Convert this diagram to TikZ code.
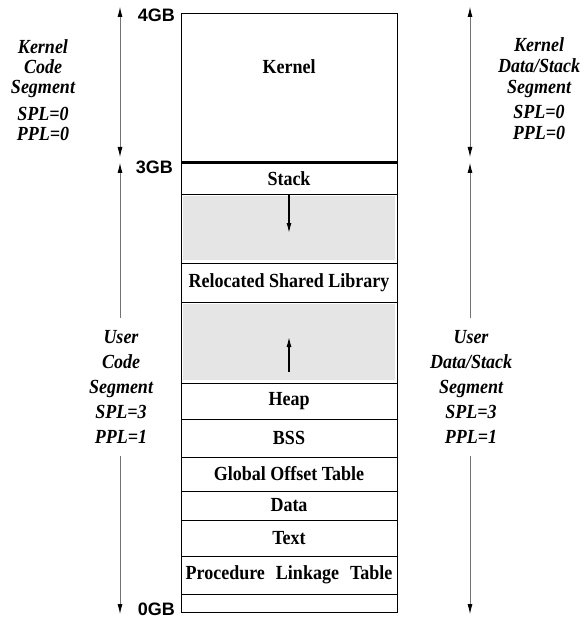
\documentclass[tikz,border=0pt]{standalone}
\usepackage{fontspec}
\setmainfont[FakeStretch=0.9]{Liberation Serif}
\setsansfont{Liberation Sans}
\usetikzlibrary{arrows.meta,positioning}

\begin{document}
\begin{tikzpicture}[x=1pt, y=-1pt, node distance=0pt, >={Latex[length=10pt,width=5pt,color=black]},
    cell/.style={draw, rectangle, minimum width=216pt, inner sep=0pt, outer sep=0pt, line width=0.8pt, font=\fontsize{20}{22}\selectfont\bfseries},
    celltext/.style={inner sep=0pt, font=\fontsize{20}{22}\selectfont\bfseries},
    gapcell/.style={cell, path picture={\fill[black!10] ([shift={(2pt,-2pt)}]path picture bounding box.north west) rectangle ([shift={(-2pt,3pt)}]path picture bounding box.south east);}},
    seglabel/.style={align=center, inner sep=0pt, font=\fontsize{20}{#1}\selectfont\bfseries\itshape},
    gblabel/.style={anchor=east, inner sep=0pt, font=\fontsize{18}{20}\selectfont\sffamily\bfseries},
    sideline/.style={draw=black!55, line width=0.8pt},
    growarrow/.style={->, line width=1.2pt}]
    \useasboundingbox (0,0) rectangle (587,620);

    % address space, top to bottom
    \node [cell, minimum height=150pt] (kernel) at (289,88) {};
    \node [celltext] (kernellabel) at (289,67) {Kernel};
    \node [cell, minimum height=31pt, below=of kernel] (stack) {Stack};
    \node [gapcell, minimum height=69pt, below=of stack] (stackgap) {};
    \node [cell, minimum height=39pt, below=of stackgap] (shlib) {Relocated Shared Library};
    \node [gapcell, minimum height=81pt, below=of shlib] (heapgap) {};
    \node [cell, minimum height=36pt, below=of heapgap] (heap) {Heap};
    \node [cell, minimum height=38pt, below=of heap] (bss) {BSS};
    \node [cell, minimum height=34pt, below=of bss] (got) {Global Offset Table};
    \node [cell, minimum height=29pt, below=of got] (data) {Data};
    \node [cell, minimum height=36pt, below=of data] (textseg) {Text};
    \node [cell, minimum height=38pt, below=of textseg] (plt) {Procedure\hspace{0.55em}Linkage\hspace{0.55em}Table};
    \node [cell, minimum height=18pt, below=of plt] (low) {};
    \draw [line width=3pt] (kernel.south west) -- (kernel.south east);

    \coordinate (stackend) at (289,233);
    \coordinate (heapbase) at (289,372);
    \coordinate (heapend) at (289,337);
    \draw [growarrow] (stack.south) -- (stackend);
    \draw [growarrow] (heapbase) -- (heapend);

    \node [gblabel] (gb4) at ([shift={(-6pt,-2pt)}]kernel.north west) {4GB};
    \node [gblabel] (gb3) at ([shift={(-8pt,-4pt)}]kernel.south west) {3GB};
    \node [gblabel] (gb0) at ([shift={(-6pt,3pt)}]low.south west) {0GB};

    % segments on either side
    \coordinate (lktop) at (120,7);
    \coordinate (lkbot) at (120,157);
    \coordinate (lutop) at (120,163);
    \coordinate (lubot) at (120,614);
    \coordinate (rktop) at (470,7);
    \coordinate (rkbot) at (470,157);
    \coordinate (rutop) at (470,163);
    \coordinate (rubot) at (470,614);

    \node [seglabel=20] (lkernel) at (43,90) {Kernel\\Code\\Segment\\[7pt]SPL=0\\PPL=0};
    \node [seglabel=21] (rkernel) at (539,89) {Kernel\\Data/Stack\\Segment\\[4pt]SPL=0\\PPL=0};
    \node [seglabel=25, inner sep=12pt] (luser) at (121,387) {User\\Code\\Segment\\SPL=3\\PPL=1};
    \node [seglabel=25, inner sep=12pt] (ruser) at (471,387) {User\\Data/Stack\\Segment\\SPL=3\\PPL=1};

    \draw [sideline, <->] (lktop) -- (lkbot);
    \draw [sideline, <-] (lutop) -- (luser.north -| lutop);
    \draw [sideline, ->] (luser.south -| lubot) -- (lubot);
    \draw [sideline, <->] (rktop) -- (rkbot);
    \draw [sideline, <-] (rutop) -- (ruser.north -| rutop);
    \draw [sideline, ->] (ruser.south -| rubot) -- (rubot);
\end{tikzpicture}
\end{document}
